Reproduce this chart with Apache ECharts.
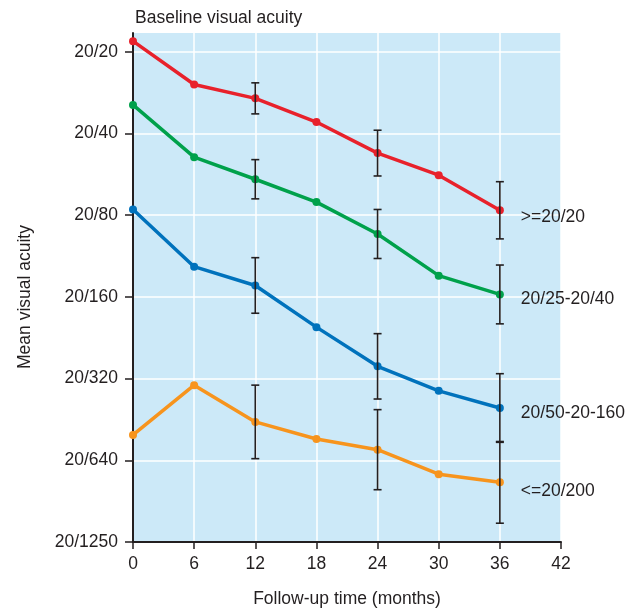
<!DOCTYPE html>
<html>
<head>
<meta charset="utf-8">
<script src="https://cdn.jsdelivr.net/npm/echarts@6/dist/echarts.min.js"></script>
<style>html,body{margin:0;padding:0;background:#fff}#c{width:637px;height:614px}</style>
</head>
<body>
<div id="c"></div>
<script>
// y values are in steps of doubling of the Snellen denominator (0 = 20/20, 6 = 20/1250)
const months = [0, 6, 12, 18, 24, 30, 36];
const yTickLabels = ['20/20', '20/40', '20/80', '20/160', '20/320', '20/640', '20/1250'];
const seriesNames = ['>=20/20', '20/25-20/40', '20/50-20-160', '<=20/200'];
const red    = [-0.13, 0.40, 0.57, 0.86, 1.24, 1.51, 1.94];
const green  = [0.65, 1.29, 1.56, 1.84, 2.23, 2.74, 2.97];
const blue   = [1.93, 2.63, 2.86, 3.37, 3.85, 4.15, 4.36];
const orange = [4.69, 4.08, 4.53, 4.74, 4.87, 5.17, 5.27];
const errMonths = [12, 24, 36];
const redErr    = [0.19, 0.28, 0.35];
const greenErr  = [0.24, 0.30, 0.36];
const blueErr   = [0.34, 0.40, 0.42];
const orangeErr = [0.45, 0.49, 0.50];

const colors = ['#e8212b', '#00a14b', '#0072bc', '#f7941d'];
const FONT = '"Liberation Sans", Arial, sans-serif';
const FS = 17.5;
const TXT = '#231f20';

const allVals = [red, green, blue, orange];
const allErr = [redErr, greenErr, blueErr, orangeErr];
const labelOffsets = [[0, 7], [0, 5], [0, 5], [0, 9]];

const lineSeries = allVals.map((vals, i) => ({
  type: 'line',
  name: seriesNames[i],
  data: months.map((m, k) => [m, vals[k]]),
  color: colors[i],
  lineStyle: { width: 3.5, color: colors[i] },
  symbol: 'circle',
  symbolSize: 8,
  itemStyle: { color: colors[i] },
  clip: false,
  z: 3,
  endLabel: {
    show: true,
    formatter: seriesNames[i],
    distance: 21,
    offset: labelOffsets[i],
    color: TXT,
    fontFamily: FONT,
    fontSize: FS
  }
}));

const errData = [];
allVals.forEach((vals, i) => {
  errMonths.forEach((m, k) => {
    const idx = months.indexOf(m);
    errData.push([m, vals[idx], allErr[i][k]]);
  });
});

function renderErr(params, api) {
  const x = api.value(0), y = api.value(1), e = api.value(2);
  const t = api.coord([x, y - e]);
  const b = api.coord([x, y + e]);
  const w = 4;
  const st = { stroke: TXT, lineWidth: 1.6 };
  return {
    type: 'group',
    children: [
      { type: 'line', shape: { x1: t[0], y1: t[1], x2: b[0], y2: b[1] }, style: st },
      { type: 'line', shape: { x1: t[0] - w, y1: t[1], x2: t[0] + w, y2: t[1] }, style: st },
      { type: 'line', shape: { x1: b[0] - w, y1: b[1], x2: b[0] + w, y2: b[1] }, style: st }
    ]
  };
}

const chart = echarts.init(document.getElementById('c'), null, { renderer: 'canvas' });
chart.setOption({
  animation: false,
  title: {
    text: 'Baseline visual acuity',
    left: 130, top: 4,
    textStyle: { fontFamily: FONT, fontSize: FS, fontWeight: 'normal', color: TXT }
  },
  grid: {
    left: 133, right: 76, top: 33, bottom: 72,
    show: true, backgroundColor: '#cce9f8', borderWidth: 0
  },
  xAxis: {
    type: 'value', min: 0, max: 42, interval: 6,
    name: 'Follow-up time (months)',
    nameLocation: 'middle', nameGap: 48,
    nameTextStyle: { fontFamily: FONT, fontSize: FS, color: TXT },
    axisLine: { onZero: false, lineStyle: { color: TXT, width: 2 } },
    axisTick: { show: true, length: 7, lineStyle: { color: TXT, width: 1.5 } },
    axisLabel: { margin: 13, fontFamily: FONT, fontSize: FS, color: TXT },
    splitLine: { show: true, lineStyle: { color: '#ffffff', width: 1.5 } }
  },
  yAxis: {
    type: 'value', inverse: true, min: -0.23, max: 6,
    axisLine: { show: true, onZero: false, lineStyle: { color: TXT, width: 2 } },
    axisTick: { show: true, length: 8, lineStyle: { color: TXT, width: 1.5 }, customValues: [0, 1, 2, 3, 4, 5, 6] },
    axisLabel: {
      margin: 15, fontFamily: FONT, fontSize: FS, color: TXT,
      customValues: [0, 1, 2, 3, 4, 5, 6],
      formatter: v => yTickLabels[Math.round(v)]
    },
    splitLine: { show: true, lineStyle: { color: '#ffffff', width: 1.5 } }
  },
  graphic: [{
    type: 'text',
    x: 25, y: 297,
    rotation: Math.PI / 2,
    style: {
      text: 'Mean visual acuity',
      fill: TXT, font: FS + 'px ' + FONT,
      align: 'center', verticalAlign: 'middle'
    }
  }],
  series: lineSeries.concat([{
    type: 'custom',
    renderItem: renderErr,
    data: errData,
    clip: false,
    z: 5
  }])
});
</script>
</body>
</html>
